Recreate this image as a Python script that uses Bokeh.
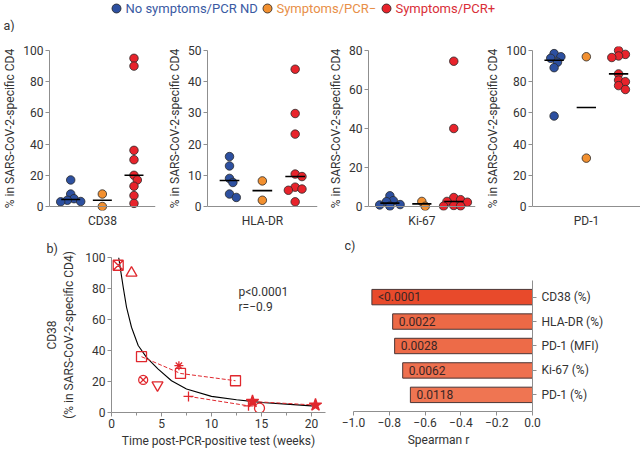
import numpy as np
from bokeh.plotting import figure
from bokeh.layouts import column, row
from bokeh.models import Range1d, FixedTicker, Span, ColumnDataSource, CustomJSTickFormatter
from bokeh.core.properties import value
from bokeh.embed import file_html
from bokeh.resources import INLINE

FONT = "Roboto"
TXT = "#333333"
AXC = "#8f8f8f"
RED = "#E0282E"

# ---------------- data ----------------
GROUPS = ["No symptoms/PCR ND", "Symptoms/PCR\u2212", "Symptoms/PCR+"]
GROUP_FILL = ["#2D50A0", "#F29030", "#E8232B"]
GROUP_TEXT = ["#3A5AA3", "#E88F48", "#D92E38"]

A_MARKERS = ["CD38", "HLA-DR", "Ki-67", "PD-1"]
A_TOP = [100, 50, 80, 100]
A_TICKS = [[0, 20, 40, 60, 80, 100], [0, 10, 20, 30, 40, 50],
           [0, 20, 40, 60, 80], [0, 20, 40, 60, 80, 100]]
A_YLABEL = "% in SARS-CoV-2-specific CD4"

CD38_NOSYM = [17, 8, 5, 4, 3.2, 3]
CD38_PCRNEG = [8, 0]
CD38_PCRPOS = [95, 90, 36, 30, 20, 17, 13, 7, 2]
HLADR_NOSYM = [16, 13, 9, 7.7, 4, 2.9]
HLADR_PCRNEG = [8.2, 2]
HLADR_PCRPOS = [44, 29.8, 23.2, 10.4, 9.6, 6.2, 5.6, 5.2, 1.5]
KI67_NOSYM = [5.5, 3, 2.5, 1, 0.8, 0.2]
KI67_PCRNEG = [2.6, 0.1]
KI67_PCRPOS = [74.5, 40, 4.6, 3.5, 2.6, 2.2, 0.5, 0.3, 0.2]
PD1_NOSYM = [98, 96, 95, 92.5, 89, 58]
PD1_PCRNEG = [96, 31]
PD1_PCRPOS = [100, 97.5, 96.5, 95.5, 85, 81, 80, 77.5, 75]
A_DATA = [[CD38_NOSYM, CD38_PCRNEG, CD38_PCRPOS],
          [HLADR_NOSYM, HLADR_PCRNEG, HLADR_PCRPOS],
          [KI67_NOSYM, KI67_PCRNEG, KI67_PCRPOS],
          [PD1_NOSYM, PD1_PCRNEG, PD1_PCRPOS]]

# panel b
B_WEEKS = [0.67, 2.0, 3.0, 6.9, 12.4, 3.17, 4.6, 6.74, 7.7, 13.7, 14.1, 20.4, 14.8]
B_CD38 = [95, 90, 36, 25.2, 20.5, 21, 17.7, 30.2, 10.4, 4.3, 7.1, 4.8, 2.8]
B_MARK = ["square_x", "triangle", "square", "square", "square", "circle_x",
          "inverted_triangle", "asterisk", "cross", "cross", "star", "star", "circle"]
B_PATIENT = [1, 2, 3, 3, 3, 4, 5, 6, 7, 7, 8, 8, 9]
FIT_X = [0.72, 0.94, 1.17, 1.5, 2.0, 2.67, 3.5, 4.67, 6.0, 7.5, 10, 12.5, 15, 17.5, 20, 20.4]
FIT_Y = [100, 90.6, 80.9, 68, 55, 43.2, 35.6, 28, 20.5, 15.1, 10.4, 8.2, 6.5, 5.4, 4.3, 4.2]
B_XTICKS = [0, 5, 10, 15, 20]
B_XMINOR = [2.5, 7.5, 12.5, 17.5]
B_YTICKS = [0, 20, 40, 60, 80, 100]
B_STATS = ["p<0.0001", "r=\u22120.9"]

# panel c
C_LABELS = ["CD38 (%)", "HLA-DR (%)", "PD-1 (MFI)", "Ki-67 (%)", "PD-1 (%)"]
C_R = [-0.897, -0.781, -0.770, -0.725, -0.682]
C_P = ["<0.0001", "0.0022", "0.0028", "0.0062", "0.0118"]
C_COLORS = ["#E84A2B", "#EC6946", "#ED6B48", "#EE704F", "#EF7552"]
C_TICKS = [-1.0, -0.8, -0.6, -0.4, -0.2, 0.0]


def base_fig(**kw):
    p = figure(output_backend="svg", toolbar_location=None, frame_align=False, **kw)
    p.outline_line_color = None
    p.grid.visible = False
    p.background_fill_color = "white"
    p.border_fill_color = "white"
    return p


def style_axis(ax):
    ax.axis_line_color = AXC
    ax.major_tick_line_color = AXC
    ax.minor_tick_line_color = None
    ax.major_tick_in = 0
    ax.major_tick_out = 4
    ax.major_label_standoff = 2
    ax.major_label_text_font = FONT
    ax.major_label_text_font_size = "12px"
    ax.major_label_text_color = TXT
    ax.axis_label_text_font = FONT
    ax.axis_label_text_font_size = "12px"
    ax.axis_label_text_font_style = "normal"
    ax.axis_label_text_color = TXT
    ax.axis_label_standoff = 3


def swarm(vals, ppx, ppy, d):
    placed, offs = [], []
    step, mind = 0.4 * d, 0.62 * d
    cands = [0.0]
    for j in range(1, 20):
        cands += [j * step, -j * step]
    for v in vals:
        yp = v * ppy
        for c in cands:
            if all((c - px) ** 2 + (yp - py) ** 2 >= mind ** 2 for px, py in placed):
                break
        placed.append((c, yp))
        offs.append(c / ppx)
    return offs


# ---------------- header ----------------
HDR_H = 32
hdr = base_fig(width=640, height=HDR_H, x_range=Range1d(0, 640), y_range=Range1d(HDR_H, 0),
               x_axis_type=None, y_axis_type=None, min_border=0)
hdr.scatter(x=[116, 267, 386], y=[8, 8, 8], size=9, fill_color=GROUP_FILL,
            line_color="#222222", line_width=0.8)
hdr.text(x=[125, 276, 395], y=[8, 8, 8], text=GROUPS, text_color=GROUP_TEXT,
         text_font=value(FONT), text_font_size="13px", text_baseline="middle")
hdr.text(x=[3], y=[25], text=["a)"], text_color=TXT, text_font=value(FONT),
         text_font_size="12.5px", text_baseline="middle")

# ---------------- panel a ----------------
A_W = [160, 160, 156, 164]
A_BL = [47, 47, 48, 56]
A_BR = [5, 3, 1, 0]
A_H = 198
VAL_PX = 156
XR = (0.33, 3.68)
MARK_D = 8.5
a_figs = []
for i in range(4):
    top = A_TOP[i]
    ppy = VAL_PX / top
    pad = 4 / ppy
    fw = A_W[i] - A_BL[i] - A_BR[i]
    p = base_fig(width=A_W[i], height=A_H, x_range=Range1d(*XR), y_range=Range1d(-pad, top + pad),
                 min_border_left=A_BL[i], min_border_right=A_BR[i],
                 min_border_top=14, min_border_bottom=20)
    ppx = fw / (XR[1] - XR[0])
    for g in range(3):
        vals = A_DATA[i][g]
        offs = swarm(vals, ppx, ppy, MARK_D)
        xs = [g + 1 + o for o in offs]
        p.scatter(x=xs, y=vals, size=MARK_D, fill_color=GROUP_FILL[g],
                  line_color="#2a2a2a", line_width=0.8)
    for g in range(3):
        med = float(np.median(A_DATA[i][g]))
        p.segment(x0=[g + 1 - 0.3], y0=[med], x1=[g + 1 + 0.3], y1=[med],
                  line_color="black", line_width=1.6)
    p.add_layout(Span(location=0, dimension="width", line_color=AXC, line_width=1))
    style_axis(p.yaxis[0])
    p.yaxis.ticker = FixedTicker(ticks=A_TICKS[i])
    p.yaxis.bounds = (0, top)
    p.yaxis.axis_label = A_YLABEL
    style_axis(p.xaxis[0])
    p.xaxis.ticker = FixedTicker(ticks=[])
    p.xaxis.axis_line_color = None
    p.xaxis.major_tick_out = 0
    p.xaxis.major_label_standoff = 0
    p.xaxis.axis_label = A_MARKERS[i]
    p.xaxis.axis_label_standoff = 3
    a_figs.append(p)

# ---------------- panel b ----------------
B_H = 221
pb = base_fig(width=330, height=B_H, x_range=Range1d(0, 21.4), y_range=Range1d(0, 100),
              min_border_left=111, min_border_right=5, min_border_top=27, min_border_bottom=39,
              title="b)")
pb.title.align = "left"
pb.title.offset = -65
pb.title.standoff = 3
pb.title.text_font = FONT
pb.title.text_font_size = "12.5px"
pb.title.text_font_style = "normal"
pb.title.text_color = TXT
pb.line(FIT_X, FIT_Y, line_color="black", line_width=1.1)
pats = sorted(set(B_PATIENT))
for pt in pats:
    idx = [k for k, q in enumerate(B_PATIENT) if q == pt]
    if len(idx) > 1:
        pb.line([B_WEEKS[k] for k in idx], [B_CD38[k] for k in idx],
                line_color=RED, line_dash="4 2", line_width=1)
sizes = {"square_x": 10, "triangle": 11, "square": 10, "circle_x": 9, "inverted_triangle": 11,
         "asterisk": 9, "cross": 10, "star": 13, "circle": 10}
src_b = ColumnDataSource(dict(
    x=B_WEEKS, y=B_CD38, m=B_MARK, s=[sizes[m] for m in B_MARK],
    fa=[1.0 if m == "star" else 0.0 for m in B_MARK]))
pb.scatter(x="x", y="y", marker="m", size="s", source=src_b, fill_color=RED, fill_alpha="fa",
           line_color=RED, line_width=1.3)
pb.text(x=[12.7, 12.7], y=[77.5, 67.8], text=B_STATS, text_color=TXT, text_font=value(FONT),
        text_font_size="12px", text_baseline="middle")
style_axis(pb.xaxis[0])
style_axis(pb.yaxis[0])
pb.xaxis.ticker = FixedTicker(ticks=B_XTICKS, minor_ticks=B_XMINOR)
pb.xaxis.minor_tick_line_color = AXC
pb.xaxis.minor_tick_in = 0
pb.xaxis.minor_tick_out = 3
pb.yaxis.ticker = FixedTicker(ticks=B_YTICKS)
pb.xaxis.axis_label = "Time post-PCR-positive test (weeks)"
pb.yaxis.axis_label = "CD38\n(% in SARS-CoV-2-specific CD4)"
pb.yaxis.axis_label_standoff = 6

# ---------------- panel c ----------------
pitch = 24.45
ylo, yhi_axis = -0.68, 4.68
yhi = yhi_axis + 40 / pitch
pc = base_fig(width=310, height=B_H, x_range=Range1d(-1.05, 0.0), y_range=Range1d(ylo, yhi),
              y_axis_location="right",
              min_border_left=14, min_border_right=108, min_border_top=10, min_border_bottom=40)
n = len(C_LABELS)
ypos = [n - 1 - k for k in range(n)]
src_c = ColumnDataSource(dict(y=ypos, r=C_R, col=C_COLORS, p=C_P, lab=C_LABELS))
pc.hbar(y="y", left="r", right=0, height=0.63, fill_color="col", line_color="#4a3535",
        line_width=1, source=src_c)
pc.text(x="r", y="y", text="p", x_offset=6, text_baseline="middle", text_color="#3a2525",
        text_font=value(FONT), text_font_size="12px", source=src_c)
pc.text(x=[-1.05], y=[yhi_axis + 35 / pitch], text=["c)"], text_color=TXT, text_font=value(FONT),
        text_font_size="12.5px", text_baseline="middle")
style_axis(pc.xaxis[0])
style_axis(pc.yaxis[0])
pc.xaxis.ticker = FixedTicker(ticks=C_TICKS)
pc.xaxis.formatter = CustomJSTickFormatter(code="return tick.toFixed(1).replace('-', '\\u2212');")
pc.xaxis.bounds = (-1.0, 0.0)
pc.xaxis.axis_label = "Spearman r"
pc.yaxis.ticker = FixedTicker(ticks=ypos)
pc.yaxis.major_label_overrides = {y: lab for y, lab in zip(ypos, C_LABELS)}
pc.yaxis.bounds = (ylo, yhi_axis)
pc.yaxis.major_label_standoff = 5

layout = column(hdr, row(*a_figs, spacing=0), row(pb, pc, spacing=0), spacing=0)
open("out.html", "w").write(file_html(layout, INLINE))
